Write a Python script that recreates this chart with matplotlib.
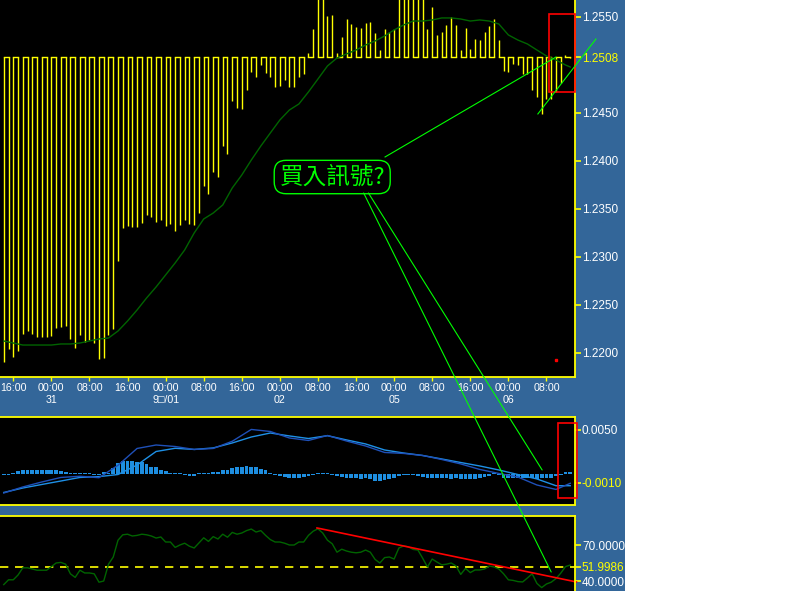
import matplotlib
matplotlib.use("Agg")
import matplotlib.pyplot as plt
from matplotlib.patches import Rectangle, ConnectionPatch

plt.rcParams['font.family'] = ['Liberation Sans', 'DejaVu Sans']

# hourly bars, bar 0 = 30th 14:00
close = [1.21906, 1.22042, 1.21958, 1.22021, 1.22198, 1.22229, 1.22198, 1.22167, 1.22167, 1.22167,
         1.22177, 1.22260, 1.22271, 1.22281, 1.22146, 1.22052, 1.22188, 1.22115, 1.22135, 1.22104,
         1.21938, 1.21948, 1.22188, 1.22250, 1.22958, 1.23302, 1.23323, 1.23313, 1.23313, 1.23354,
         1.23438, 1.23417, 1.23365, 1.23385, 1.23323, 1.23344, 1.23271, 1.23333, 1.23385, 1.23344,
         1.23333, 1.23458, 1.23740, 1.23656, 1.23885, 1.23833, 1.24156, 1.24073, 1.24625, 1.24552,
         1.24542, 1.24740, 1.24927, 1.24875, 1.25000, 1.24917, 1.24875, 1.24771, 1.24781, 1.24844,
         1.24771, 1.24771, 1.24875, 1.24906, 1.25122, 1.25372, 1.25750, 1.25750, 1.25510, 1.25521,
         1.25122, 1.25295, 1.25476, 1.25424, 1.25399, 1.25382, 1.25441, 1.25444, 1.25330, 1.25156,
         1.25372, 1.25347, 1.25372, 1.25750, 1.25750, 1.25750, 1.25750, 1.25750, 1.25750, 1.25372,
         1.25608, 1.25313, 1.25347, 1.25417, 1.25497, 1.25417, 1.25156, 1.25382, 1.25163, 1.25267,
         1.25260, 1.25347, 1.25406, 1.25476, 1.25260, 1.24941, 1.24931, 1.25007, 1.25000, 1.24906,
         1.24906, 1.24740, 1.24670, 1.24486, 1.24643, 1.24643, 1.24722, 1.24809, 1.25104, 1.25070]
last_price = 1.2508

ma_idx = list(range(0, 120, 2)) + [119]
ma = [1.22125, 1.22104, 1.22083, 1.22083, 1.22083, 1.22083, 1.22094, 1.22094, 1.22104, 1.22125,
      1.22146, 1.22156, 1.22229, 1.22333, 1.22448, 1.22573, 1.22688, 1.22813, 1.22938, 1.23073,
      1.23250, 1.23396, 1.23458, 1.23542, 1.23719, 1.23854, 1.24010, 1.24156, 1.24292, 1.24427,
      1.24531, 1.24594, 1.24719, 1.24854, 1.24990, 1.25073, 1.25115, 1.25156, 1.25208, 1.25250,
      1.25302, 1.25365, 1.25417, 1.25458, 1.25458, 1.25469, 1.25490, 1.25490, 1.25479, 1.25458,
      1.25469, 1.25458, 1.25427, 1.25313, 1.25260, 1.25219, 1.25156, 1.25094, 1.25052, 1.25000, 1.24979]

macd_idx = list(range(0, 120, 4)) + [119]
macd = [-0.00208, -0.00158, -0.00118, -0.00079, -0.00039, -0.00030, -0.00006, 0.00101, 0.00253, 0.00289,
        0.00276, 0.00293, 0.00349, 0.00416, 0.00461, 0.00428, 0.00399, 0.00431, 0.00383, 0.00338,
        0.00270, 0.00236, 0.00208, 0.00169, 0.00129, 0.00090, 0.00045, -0.00006, -0.00056, -0.00132, -0.00132]
signal = [-0.00214, -0.00146, -0.00090, -0.00039, -0.00026, -0.00042, 0.00098, 0.00287, 0.00326, 0.00309,
          0.00276, 0.00287, 0.00368, 0.00501, 0.00478, 0.00405, 0.00377, 0.00433, 0.00371, 0.00315,
          0.00242, 0.00231, 0.00208, 0.00163, 0.00113, 0.00051, 0.00006, -0.00034, -0.00124, -0.00174, -0.00105]
hist = [-0.0001, -0.0001, 0.0001, 0.0003, 0.0005, 0.0005, 0.0005, 0.0005, 0.0005, 0.0004,
        0.0005, 0.0005, 0.0003, 0.0002, 0.0001, 0.0001, 0.0001, 0.0001, 0.0001, -0.0001,
        -0.0001, 0.0002, 0.0001, 0.0007, 0.0012, 0.0015, 0.0015, 0.0015, 0.0014, 0.0013,
        0.0011, 0.0008, 0.0008, 0.0005, 0.0003, 0.0001, 0.0001, 0.0001, -0.0001, -0.0002,
        -0.0002, 0.0001, 0.0001, 0.0001, 0.0002, 0.0002, 0.0004, 0.0005, 0.0007, 0.0008,
        0.0008, 0.0009, 0.0008, 0.0008, 0.0006, 0.0004, 0.0001, -0.0001, -0.0002, -0.0003,
        -0.0004, -0.0004, -0.0005, -0.0003, -0.0002, -0.0001, 0.0001, 0.0001, 0.0001, -0.0001,
        -0.0002, -0.0003, -0.0004, -0.0004, -0.0005, -0.0006, -0.0005, -0.0006, -0.0008, -0.0008,
        -0.0007, -0.0006, -0.0004, -0.0002, -0.0001, -0.0001, -0.0001, -0.0002, -0.0003, -0.0004,
        -0.0004, -0.0004, -0.0004, -0.0005, -0.0006, -0.0005, -0.0006, -0.0006, -0.0006, -0.0006,
        -0.0004, -0.0003, -0.0002, 0.0001, -0.0001, -0.0004, -0.0005, -0.0005, -0.0005, -0.0005,
        -0.0004, -0.0005, -0.0006, -0.0005, -0.0005, -0.0004, -0.0002, -0.0001, 0.0002, 0.0002]

rsi = [37, 41, 41, 45, 51, 51, 50, 49, 49, 49,
       52, 55, 55.5, 54, 46, 43, 49, 46.7, 46.7, 46,
       39, 40, 54, 60, 74, 78.5, 79, 77.5, 78, 79,
       78.5, 77.5, 75.8, 76.7, 72.5, 72.5, 68, 70, 71.5, 69,
       67.5, 71.7, 76, 73, 77, 75, 79, 76.5, 80.5, 79,
       80, 82, 83.3, 80.8, 82, 78, 74.5, 72.5, 72.5, 71.5,
       70, 70, 72.5, 72.5, 78, 81.5, 83.5, 80, 74, 71,
       64, 66.5, 65, 64, 63.5, 64, 65.8, 64, 58, 55,
       59.5, 60, 58.3, 67.5, 69.2, 68.5, 66.3, 65.8, 59, 51.7,
       58.3, 55.8, 53.5, 54, 55, 52.5, 45.5, 50.5, 47, 49.2,
       49.2, 50, 52.5, 51.7, 50, 46, 41, 40.5, 39.5, 39.2,
       42.5, 46, 38, 34.5, 37.5, 39, 42, 46.5, 52, 53.3]
rsi_last = 51.9986

tick_idx = list(range(2, 115, 8))
tick_txt = ['16:00', '00:00', '08:00']
date_txt = {10: '31', 34: '9\u25a1/01', 58: '02', 82: '05', 106: '06'}

price_ticks = [1.2200, 1.2250, 1.2300, 1.2350, 1.2400, 1.2450, 1.2550]
macd_ticks = [0.0050]
macd_last = -0.0010
rsi_ticks = [70.0, 40.0]

YEL = '#ffff00'
BLUE_BG = '#336699'
W, H = 796, 591
FS = 8.5

fig = plt.figure(figsize=(W / 100, H / 100), dpi=100)
fig.patch.set_facecolor('white')
fig.patches.append(Rectangle((0, 0), 625 / W, 1, transform=fig.transFigure,
                             facecolor=BLUE_BG, edgecolor='none', zorder=-5))

ax1 = fig.add_axes([0, 1 - 377 / H, 575 / W, 377 / H])
ax2 = fig.add_axes([0, 1 - 505 / H, 575 / W, 88 / H])
ax3 = fig.add_axes([0, 0, 575 / W, 75 / H])

xlim = (-0.79, 120.0)
for ax in (ax1, ax2, ax3):
    ax.set_facecolor('black')
    ax.set_xlim(*xlim)
    ax.yaxis.tick_right()
    ax.tick_params(axis='y', colors=YEL, labelcolor='white', labelsize=FS, length=4, width=1.2, pad=1)
    ax.spines['left'].set_visible(False)
    for s in ('top', 'bottom', 'right'):
        ax.spines[s].set_color(YEL)
        ax.spines[s].set_linewidth(1.3)

# ---- price panel
ax1.set_ylim(1.2175, 1.25677)
ax1.spines['top'].set_visible(False)
n = len(close)
ax1.vlines(range(n), last_price, close, color=YEL, lw=1)
for i in range(0, n - 1, 2):
    ax1.plot([i, i + 1], [last_price, last_price], color=YEL, lw=1)
ax1.plot(ma_idx, ma, color='#006400', lw=1)
ax1.set_yticks(price_ticks + [last_price])
ax1.set_yticklabels([f'{v:.4f}' for v in price_ticks + [last_price]])
ax1.get_yticklabels()[-1].set_color(YEL)
ax1.set_xticks(tick_idx)
labels = []
for k, t in enumerate(tick_idx):
    lab = tick_txt[k % 3]
    if t in date_txt:
        lab += '\n' + date_txt[t]
    labels.append(lab)
ax1.set_xticklabels(labels, va='top', linespacing=1.25)
ax1.tick_params(axis='x', colors=YEL, labelcolor='white', labelsize=7.7, length=3, width=1, pad=1.5)

ax1.plot([116], [1.21927], 's', color='red', ms=1.5)
ax1.add_patch(Rectangle((114.5, 1.24719), 5.5, 1.25531 - 1.24719, fill=False,
                        edgecolor='red', lw=1.2, clip_on=False, zorder=5))

# ---- MACD panel
ax2.set_ylim(-0.00349, 0.00641)
ax2.bar(range(len(hist)), hist, width=0.8, color='#1e8ee0', edgecolor='none')
ax2.plot(macd_idx, macd, color='#1e90e6', lw=1)
ax2.plot(macd_idx, signal, color='#1f50b8', lw=1)
ax2.set_xticks([])
ax2.set_yticks(macd_ticks + [macd_last])
ax2.set_yticklabels(['0.0050', '-0.0010'])
ax2.get_yticklabels()[-1].set_color(YEL)
ax2.add_patch(Rectangle((116.4, -0.0027), 4.0, 0.00574 + 0.0027, fill=False,
                        edgecolor='red', lw=1.2, clip_on=False, zorder=5))

# ---- RSI panel
ax3.set_ylim(31.67, 94.17)
ax3.spines['bottom'].set_visible(False)
ax3.axhline(rsi_last, color=YEL, lw=1.2, ls=(0, (5, 4)))
ax3.plot(range(len(rsi)), rsi, color='#006400', lw=1)
ax3.plot([65.8, 120.3], [84.2, 39.2], color='red', lw=1.2, clip_on=False)
ax3.set_xticks([])
ax3.set_yticks(rsi_ticks + [rsi_last])
ax3.set_yticklabels(['70.0000', '40.0000', '51.9986'])
ax3.get_yticklabels()[-1].set_color(YEL)

# ---- annotation
GRN = '#00ff00'
ax1.text(69.0, 1.23833, '買入訊號?', color=GRN, fontsize=17, ha='center', va='center',
         family=['Noto Sans CJK TC', 'DejaVu Sans'], zorder=8,
         bbox=dict(boxstyle='round,pad=0.22,rounding_size=0.5', facecolor='black', edgecolor=GRN, lw=1))
ax1.plot([80.1, 116.0], [1.24042, 1.25083], color=GRN, lw=0.8, zorder=6)
ax1.plot([112.2, 124.4], [1.24490, 1.25271], color=GRN, lw=0.8, zorder=6, clip_on=False)
for xa, ya, xb, yb, axb in [(75.6, 1.23667, 115.0, 47.5, ax3), (76.6, 1.23667, 113.1, 0.00045, ax2)]:
    cp = ConnectionPatch(xyA=(xa, ya), coordsA=ax1.transData, xyB=(xb, yb), coordsB=axb.transData,
                         color=GRN, lw=0.8, zorder=7)
    fig.add_artist(cp)

fig.savefig('out.png', dpi=100, facecolor=fig.get_facecolor())
